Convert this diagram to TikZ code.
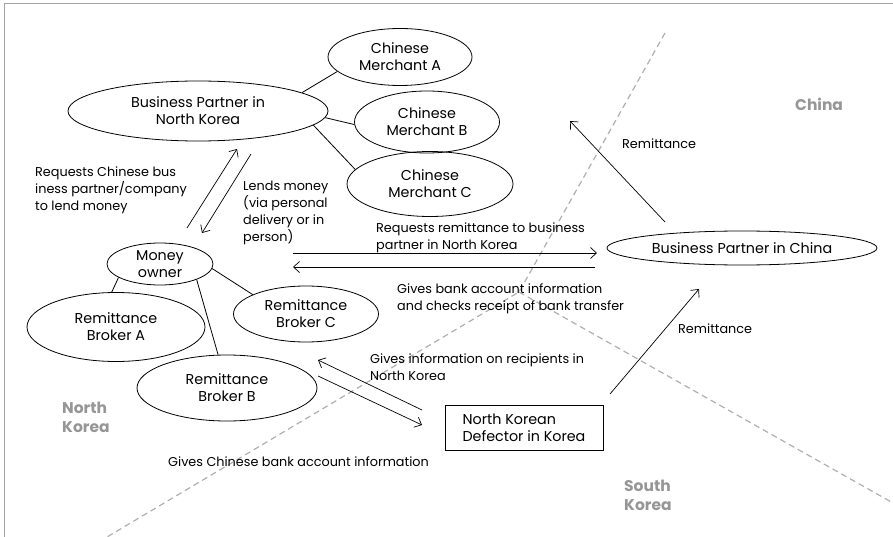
\documentclass[tikz,border=0pt]{standalone}
\usepackage{fontspec}
\setmainfont{Poppins}
\usetikzlibrary{arrows.meta,shapes.geometric}

\definecolor{regiongray}{RGB}{150,150,150}
\definecolor{framegray}{RGB}{165,165,165}
\definecolor{bordergray}{RGB}{175,175,175}

\begin{document}
\begin{tikzpicture}[x=1pt, y=-1pt,
    every node/.style={font=\fontsize{12.8}{17}\selectfont},
    party/.style={ellipse, draw, line width=0.8pt, inner sep=0pt, align=center,
      font=\fontsize{14.3}{17}\selectfont},
    note/.style={anchor=base west, inner sep=0pt, align=left},
    region/.style={anchor=base west, inner sep=0pt, align=left, text=regiongray,
      font=\fontsize{15.5}{19}\selectfont\bfseries},
    flow/.style={-{Straight Barb[length=6pt,width=11pt]}, line width=0.7pt},
    tie/.style={line width=0.8pt}]

  \useasboundingbox (0,0) rectangle (893,537) ;
  \draw [framegray, line width=1pt] (4,537) -- (4,4) -- (893,4) ;

  % borders
  \coordinate (meet) at (519,292) ;
  \draw [bordergray, line width=1.2pt, dash pattern=on 6pt off 4pt]
    (665,33) -- (meet) -- (107,537) ;
  \draw [bordergray, line width=1.2pt, dash pattern=on 6pt off 4pt]
    (meet) -- (893,503) ;

  \node [region] (cn) at (795,111) {China} ;
  \node [region] (nk) at (62,432) {North\\Korea} ;
  \node [region] (sk) at (624,510) {South\\Korea} ;

  % parties
  \node [party, minimum width=260, minimum height=60] (bpnk) at (198,111)
    {Business Partner in\\North Korea} ;
  \node [party, minimum width=144, minimum height=57] (mercA) at (400,57)
    {Chinese\\Merchant A} ;
  \node [party, minimum width=145, minimum height=62] (mercB) at (427,122)
    {Chinese\\Merchant B} ;
  \node [party, minimum width=166, minimum height=65] (mercC) at (430,184)
    {Chinese\\Merchant C} ;
  \node [party, minimum width=106, minimum height=42] (owner) at (160,264)
    {Money\\owner} ;
  \node [party, minimum width=178, minimum height=69] (brkA) at (116,327)
    {Remittance\\Broker A} ;
  \node [party, minimum width=180, minimum height=66] (brkB) at (227,388)
    {Remittance\\Broker B} ;
  \node [party, minimum width=145, minimum height=56] (brkC) at (306,314)
    {Remittance\\Broker C} ;
  \node [party, minimum width=270, minimum height=34] (bpcn) at (742,248)
    {Business Partner in China} ;
  \node [draw, line width=0.8pt, align=left, minimum width=158, minimum height=45,
    font=\fontsize{14.3}{17}\selectfont]
    (defector) at (524,428) {North Korean\\Defector in Korea} ;

  \draw [tie] (bpnk.10) -- (mercA.193) ;
  \draw [tie] (bpnk.357) -- (mercB.182) ;
  \draw [tie] (bpnk.353) -- (mercC.169) ;
  \draw [tie] (owner.198) -- (brkA.97) ;
  \draw [tie] (owner.337) -- (brkB.105) ;
  \draw [tie] (owner.355) -- (brkC.160) ;

  % flows
  \coordinate (askS) at (187,228) ;   \coordinate (askE) at (237,149) ;
  \coordinate (lendS) at (251,154) ;  \coordinate (lendE) at (202,233) ;
  \coordinate (reqS) at (293,253) ;   \coordinate (reqE) at (597,253) ;
  \coordinate (bankS) at (595,267) ;  \coordinate (bankE) at (293,267) ;
  \coordinate (upS) at (665,222) ;    \coordinate (upE) at (570,121) ;
  \coordinate (dfS) at (610,394) ;    \coordinate (dfE) at (699,289) ;
  \coordinate (infoS) at (422,410) ;  \coordinate (infoE) at (318,360) ;
  \coordinate (acctS) at (318,376) ;  \coordinate (acctE) at (422,425) ;

  \draw [flow] (askS) -- (askE) ;
  \draw [flow] (lendS) -- (lendE) ;
  \draw [flow] (reqS) -- (reqE) ;
  \draw [flow] (bankS) -- (bankE) ;
  \draw [flow] (upS) -- (upE) ;
  \draw [flow] (dfS) -- (dfE) ;
  \draw [flow] (infoS) -- (infoE) ;
  \draw [flow] (acctS) -- (acctE) ;

  % labels (anchored on their last line)
  \node [note] (askTxt) at (35,211)
    {Requests Chinese bus\\iness partner/company\\to lend money} ;
  \node [note] (lendTxt) at (243,241)
    {Lends money\\(via personal\\delivery or in\\person)} ;
  \node [note] (reqTxt) at (376,249)
    {Requests remittance to business\\partner in North Korea} ;
  \node [note] (bankTxt) at (397,310)
    {Gives bank account information\\and checks receipt of bank transfer} ;
  \node [note] (infoTxt) at (370,380)
    {Gives information on recipients in\\North Korea} ;
  \node [note] (acctTxt) at (168,466) {Gives Chinese bank account information} ;
  \node [note] (upTxt) at (622,149) {Remittance} ;
  \node [note] (dfTxt) at (678,333) {Remittance} ;

\end{tikzpicture}
\end{document}
